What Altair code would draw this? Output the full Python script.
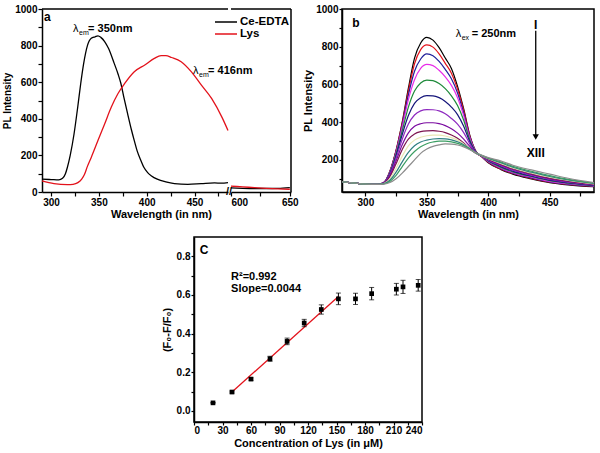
import altair as alt
import pandas as pd

FONT = "Liberation Sans"

# ---------------- Panel a data ----------------
a_series = ["Ce-EDTA", "Lys"]
a_colors = ["#000000", "#e3121b"]
a_ce_wl = [290.5, 300, 308, 312, 315, 317, 320, 324, 328, 331, 334, 338, 342, 346, 349, 352, 356, 360, 366, 370,
           373, 376, 380, 384, 387, 390, 394, 397, 401, 405, 411, 420, 429, 443, 457, 471, 478, 485]
a_ce_val = [70, 68, 66, 75, 100, 134, 200, 317, 470, 593, 700, 800, 840, 848, 853, 845, 822, 785, 703, 645,
            593, 520, 428, 340, 281, 225, 171, 135, 106, 88, 70, 55, 46, 42, 46, 50, 48, 51]
a_lys_wl = [290.5, 303, 317, 323, 328, 332, 335, 338, 342, 349, 356, 363, 370, 377, 387, 398, 408, 415, 420, 426,
            436, 447, 457, 468, 479, 485]
a_lys_val = [61, 46, 40, 42, 51, 70, 97, 140, 189, 281, 372, 464, 538, 593, 657, 694, 730, 745, 745, 735,
             712, 655, 585, 510, 405, 336]
a_right_wl = [600, 610, 620, 630, 640, 650]
a_right_ce = [22, 20, 19, 19, 20, 24]
a_right_lys = [32, 28, 24, 20, 17, 15]
a_ann_x = [323, 448.5]
a_ann_y = [893, 660]
a_ann_txt = ["= 350nm", "= 416nm"]

# ---------------- Panel b data ----------------
b_wl = [281, 300, 310, 315, 320, 325, 330, 335, 340, 345, 350, 355, 360, 365, 370, 375, 380, 385, 390, 395,
        400, 410, 420, 435, 450, 465, 486]
b_names = ["I", "II", "III", "IV", "V", "VI", "VII", "VIII", "IX", "X", "XI", "XII", "XIII"]
b_colors = ["#000000", "#e3121b", "#1f1f9a", "#e82ce8", "#1e8a3a", "#15157a", "#8e2ac0", "#7a0aa0",
            "#7d1550", "#e9e6b4", "#2e7e80", "#3c9e63", "#8c8c8c"]
b_curves = [
    [85, 72, 70, 80, 140, 250, 400, 580, 740, 820, 850, 835, 795, 740, 685, 590, 470, 330, 245, 215, 185, 150, 125, 100, 80, 68, 58],
    [85, 72, 70, 80, 140, 250, 395, 565, 710, 785, 810, 798, 762, 712, 660, 575, 462, 326, 244, 215, 188, 152, 128, 102, 82, 70, 60],
    [85, 72, 70, 80, 138, 245, 385, 545, 670, 735, 762, 752, 722, 680, 630, 555, 448, 320, 243, 216, 190, 155, 130, 105, 84, 72, 61],
    [85, 72, 70, 80, 136, 240, 375, 520, 625, 685, 706, 700, 675, 640, 595, 530, 435, 316, 242, 217, 192, 158, 133, 108, 86, 74, 62],
    [85, 72, 70, 79, 132, 232, 355, 480, 565, 608, 623, 620, 605, 578, 540, 488, 410, 306, 241, 218, 195, 162, 137, 112, 90, 77, 64],
    [85, 72, 70, 78, 128, 222, 335, 435, 500, 530, 541, 540, 530, 510, 480, 440, 378, 296, 240, 218, 197, 166, 141, 115, 93, 79, 65],
    [85, 72, 70, 78, 124, 210, 310, 390, 438, 460, 467, 466, 460, 445, 420, 390, 345, 285, 238, 219, 199, 170, 145, 119, 97, 82, 67],
    [85, 72, 70, 77, 118, 195, 280, 343, 378, 392, 397, 397, 392, 382, 365, 342, 310, 272, 236, 220, 202, 174, 149, 123, 100, 85, 69],
    [85, 72, 70, 76, 112, 180, 255, 310, 338, 350, 354, 355, 352, 345, 332, 315, 290, 260, 234, 220, 204, 178, 153, 127, 104, 88, 71],
    [85, 72, 70, 75, 100, 155, 220, 275, 305, 320, 328, 331, 331, 327, 318, 305, 285, 260, 236, 221, 206, 182, 157, 131, 108, 91, 73],
    [85, 72, 70, 74, 92, 135, 190, 240, 275, 295, 305, 311, 313, 312, 306, 296, 280, 259, 237, 222, 208, 186, 161, 135, 112, 94, 75],
    [85, 72, 70, 73, 86, 118, 165, 210, 245, 270, 286, 295, 300, 300, 296, 288, 275, 257, 238, 223, 210, 190, 166, 140, 117, 97, 77],
    [85, 72, 70, 72, 80, 100, 130, 165, 200, 235, 258, 272, 280, 285, 284, 279, 269, 254, 238, 224, 212, 195, 172, 147, 125, 103, 80],
]

# ---------------- Panel c data ----------------
c_conc = [20, 40, 60, 80, 98, 116, 134, 152, 170, 187, 213, 220, 236]
c_ratio = [0.042, 0.098, 0.165, 0.27, 0.36, 0.455, 0.525, 0.58, 0.58, 0.607, 0.63, 0.642, 0.65]
c_err = [0.0, 0.005, 0.006, 0.013, 0.017, 0.019, 0.024, 0.03, 0.029, 0.032, 0.03, 0.034, 0.03]
c_fit_x = [40, 152]
c_fit_y = [0.098, 0.592]


def ax(**kw):
    d = dict(domainColor="black", domainWidth=1.5, tickColor="black", tickWidth=1.2, tickSize=4,
             labelFont=FONT, labelFontSize=10, labelFontWeight="bold", labelColor="black", labelPadding=1,
             titleFont=FONT, titleFontSize=11, titleFontWeight="bold", titleColor="black", grid=False)
    d.update(kw)
    return alt.Axis(**d)


lab50 = "datum.value % 50 == 0 ? format(datum.value, 'd') : ''"
lab200 = "datum.value % 200 == 0 ? format(datum.value, 'd') : ''"

# ================= Panel a =================
aL_xs = alt.Scale(domain=[290.5, 485], nice=False, zero=False)
aR_xs = alt.Scale(domain=[600, 651], nice=False, zero=False)
a_ys = alt.Scale(domain=[0, 1000], nice=False, zero=False)
aL_xaxis = ax(values=[300, 325, 350, 375, 400, 425, 450, 475], labelExpr=lab50, title="Wavelength (in nm)",
              titleX=119, titlePadding=1)
aR_xaxis = ax(values=[600, 625, 650], labelExpr=lab50, title=None)
a_yaxis = ax(values=list(range(0, 1001, 100)), labelExpr=lab200, title="PL Intensity", titleFontSize=10,
             minExtent=28, maxExtent=28, titlePadding=2)


def aLX(f):
    return alt.X(f, scale=aL_xs, axis=aL_xaxis)


def aRX(f):
    return alt.X(f, scale=aR_xs, axis=aR_xaxis)


def aY(f, axis=True):
    return alt.Y(f, scale=a_ys, axis=a_yaxis if axis else None)


df_aL = pd.DataFrame({
    "wl": a_ce_wl + a_lys_wl,
    "val": a_ce_val + a_lys_val,
    "series": [a_series[0]] * len(a_ce_wl) + [a_series[1]] * len(a_lys_wl),
})
df_aR = pd.DataFrame({
    "wl": a_right_wl + a_right_wl,
    "val": a_right_ce + a_right_lys,
    "series": [a_series[0]] * len(a_right_wl) + [a_series[1]] * len(a_right_wl),
})
df_aann = pd.DataFrame({"x": a_ann_x, "y": a_ann_y, "txt": a_ann_txt})
df_alab = pd.DataFrame({"x": [292.6], "y": [956], "txt": ["a"]})
df_break = pd.DataFrame({"x": [485], "y": [0], "txt": ["//"]})

aL_lines = alt.Chart(df_aL).mark_line(strokeWidth=1.3, interpolate="monotone").encode(
    x=aLX("wl:Q"), y=aY("val:Q"),
    color=alt.Color("series:N", scale=alt.Scale(domain=a_series, range=a_colors), legend=None))
aL_lab = alt.Chart(df_alab).mark_text(font=FONT, fontSize=12, fontWeight="bold", align="left",
                                      baseline="middle", color="black").encode(
    x=aLX("x:Q"), y=aY("y:Q"), text="txt:N")
aL_lam = alt.Chart(df_aann).mark_text(font=FONT, fontSize=11, align="left", baseline="middle",
                                      color="black").encode(x=aLX("x:Q"), y=aY("y:Q"), text=alt.value("λ"))
aL_sub = alt.Chart(df_aann).mark_text(font=FONT, fontSize=7, align="left", baseline="middle", dx=6, dy=4,
                                      color="black").encode(x=aLX("x:Q"), y=aY("y:Q"), text=alt.value("em"))
aL_eq = alt.Chart(df_aann).mark_text(font=FONT, fontSize=11, fontWeight="bold", align="left",
                                     baseline="middle", dx=15, color="black").encode(
    x=aLX("x:Q"), y=aY("y:Q"), text="txt:N")
aL_brk = alt.Chart(df_break).mark_text(font=FONT, fontSize=11, fontWeight="bold", align="center",
                                       baseline="middle", dx=1, color="black").encode(
    x=aLX("x:Q"), y=aY("y:Q"), text="txt:N")
aL_top = alt.Chart(pd.DataFrame({"z": [0]})).mark_rule(strokeWidth=1.5, color="black").encode(
    x=alt.value(0), x2=alt.value(186), y=alt.value(0))

a_left = alt.layer(aL_lines, aL_lab, aL_lam, aL_sub, aL_eq, aL_brk, aL_top).properties(width=186, height=183)

aR_lines = alt.Chart(df_aR).mark_line(strokeWidth=1.3, interpolate="monotone").encode(
    x=aRX("wl:Q"), y=aY("val:Q", axis=False),
    color=alt.Color("series:N", scale=alt.Scale(domain=a_series, range=a_colors),
                    legend=alt.Legend(orient="none", legendX=-17, legendY=7, title=None, symbolType="stroke",
                                      symbolSize=484, symbolStrokeWidth=1.5, labelFont=FONT, labelFontSize=11.5,
                                      labelFontWeight="bold", labelColor="black", labelOffset=2,
                                      clipHeight=12, rowPadding=0, padding=0)))
aR_top = alt.Chart(pd.DataFrame({"z": [0]})).mark_rule(strokeWidth=1.5, color="black").encode(
    x=alt.value(0), x2=alt.value(60), y=alt.value(0))
aR_right = alt.Chart(pd.DataFrame({"z": [0]})).mark_rule(strokeWidth=1.5, color="black").encode(
    x=alt.value(60), y=alt.value(0), y2=alt.value(183))
a_right = alt.layer(aR_lines, aR_top, aR_right).properties(width=60, height=183)

panel_a = alt.hconcat(a_left, a_right, spacing=3, bounds="flush").resolve_scale(
    x="independent", y="independent", color="independent").resolve_axis(x="independent", y="independent")

# ================= Panel b =================
b_xs = alt.Scale(domain=[281, 486], nice=False, zero=False)
b_ys = alt.Scale(domain=[30, 1000], nice=False, zero=False)
b_xaxis = ax(values=[300, 325, 350, 375, 400, 425, 450, 475], labelExpr=lab50, title="Wavelength (in nm)",
             titlePadding=1)
b_yaxis = ax(values=list(range(100, 1001, 100)), labelExpr=lab200, title="PL Intensity", minExtent=27,
             maxExtent=27, titlePadding=2, tickSize=3)


def bX(f):
    return alt.X(f, scale=b_xs, axis=b_xaxis)


def bY(f):
    return alt.Y(f, scale=b_ys, axis=b_yaxis)


rows = []
for name, vals in zip(b_names, b_curves):
    for w, v in zip(b_wl, vals):
        rows.append({"wl": w, "val": v, "curve": name})
df_b = pd.DataFrame(rows)

b_lines = alt.Chart(df_b).mark_line(strokeWidth=1.2, interpolate="monotone").encode(
    x=bX("wl:Q"), y=bY("val:Q"),
    color=alt.Color("curve:N", scale=alt.Scale(domain=b_names, range=b_colors), legend=None))
df_blab = pd.DataFrame({"x": [289.4], "y": [928], "txt": ["b"]})
b_lab = alt.Chart(df_blab).mark_text(font=FONT, fontSize=12, fontWeight="bold", align="left",
                                     baseline="middle", color="black").encode(x=bX("x:Q"), y=bY("y:Q"), text="txt:N")
df_bann = pd.DataFrame({"x": [373.5], "y": [866], "txt": ["= 250nm"]})
b_lam = alt.Chart(df_bann).mark_text(font=FONT, fontSize=11, align="left", baseline="middle",
                                     color="black").encode(x=bX("x:Q"), y=bY("y:Q"), text=alt.value("λ"))
b_sub = alt.Chart(df_bann).mark_text(font=FONT, fontSize=7, align="left", baseline="middle", dx=6, dy=4,
                                     color="black").encode(x=bX("x:Q"), y=bY("y:Q"), text=alt.value("ex"))
b_eq = alt.Chart(df_bann).mark_text(font=FONT, fontSize=11, fontWeight="bold", align="left",
                                    baseline="middle", dx=16, color="black").encode(
    x=bX("x:Q"), y=bY("y:Q"), text="txt:N")
df_arrow = pd.DataFrame({"x": [438.6], "y": [885], "y2": [322]})
b_shaft = alt.Chart(df_arrow).mark_rule(strokeWidth=1.3, color="black").encode(
    x=bX("x:Q"), y=bY("y:Q"), y2="y2:Q")
b_head = alt.Chart(df_arrow).mark_point(shape="triangle-down", filled=True, size=40, color="black",
                                        opacity=1).encode(x=bX("x:Q"), y=bY("y2:Q"))
df_roman = pd.DataFrame({"x": [438.6, 438.6], "y": [915, 236], "txt": ["I", "XIII"]})
b_roman = alt.Chart(df_roman).mark_text(font=FONT, fontSize=12, fontWeight="bold", align="center",
                                        baseline="middle", color="black").encode(
    x=bX("x:Q"), y=bY("y:Q"), text="txt:N")

panel_b = alt.layer(b_lines, b_lab, b_lam, b_sub, b_eq, b_shaft, b_head, b_roman).properties(
    width=252, height=183, view=alt.ViewBackground(stroke="black", strokeWidth=1.5))

top = alt.hconcat(panel_a, panel_b, spacing=2).resolve_scale(
    x="independent", y="independent", color="independent").resolve_axis(x="independent", y="independent")

# ================= Panel c =================
c_xs = alt.Scale(domain=[0, 240], nice=False, zero=False)
c_ys = alt.Scale(domain=[-0.057, 0.9], nice=False, zero=False)
c_xaxis = ax(values=list(range(0, 241, 15)), labelExpr="datum.value % 30 == 0 ? format(datum.value, 'd') : ''",
             title="Concentration of Lys (in μM)", tickSize=3, labelPadding=0, titlePadding=2)
c_yaxis = ax(values=[0.0, 0.1, 0.2, 0.3, 0.4, 0.5, 0.6, 0.7, 0.8],
             labelExpr="abs(round(datum.value * 10)) % 2 == 0 ? format(datum.value, '.1f') : ''",
             title="(F₀-F/F₀)", tickSize=3, titlePadding=4)


def cX(f):
    return alt.X(f, scale=c_xs, axis=c_xaxis)


def cY(f):
    return alt.Y(f, scale=c_ys, axis=c_yaxis)


df_c = pd.DataFrame({"conc": c_conc, "ratio": c_ratio,
                     "lo": [r - e for r, e in zip(c_ratio, c_err)],
                     "hi": [r + e for r, e in zip(c_ratio, c_err)]})
df_fit = pd.DataFrame({"conc": c_fit_x, "ratio": c_fit_y})

c_fit = alt.Chart(df_fit).mark_line(color="#e3121b", strokeWidth=1.3).encode(x=cX("conc:Q"), y=cY("ratio:Q"))
c_err_bars = alt.Chart(df_c).mark_errorbar(ticks=True, size=5, thickness=1, color="black").encode(
    x=cX("conc:Q"), y=cY("lo:Q"), y2="hi:Q")
c_pts = alt.Chart(df_c).mark_square(size=22, color="black", opacity=1).encode(x=cX("conc:Q"), y=cY("ratio:Q"))
df_ctxt = pd.DataFrame({"x": [6, 39, 39], "y": [0.835, 0.695, 0.633], "txt": ["C", "R²=0.992", "Slope=0.0044"],
                        "fs": [12, 11, 11]})
c_txt = alt.Chart(df_ctxt).mark_text(font=FONT, fontWeight="bold", align="left", baseline="middle",
                                     color="black").encode(
    x=cX("x:Q"), y=cY("y:Q"), text="txt:N", size=alt.Size("fs:Q", scale=None, legend=None))

panel_c = alt.layer(c_fit, c_err_bars, c_pts, c_txt).properties(
    width=228, height=185, view=alt.ViewBackground(stroke="black", strokeWidth=1.5))

spacer = alt.Chart(pd.DataFrame({"s": [0]})).mark_point(opacity=0).encode(
    x=alt.value(0), y=alt.value(0)).properties(width=1, height=185)

bottom = alt.hconcat(spacer, panel_c, spacing=114).resolve_scale(
    x="independent", y="independent")

chart = alt.vconcat(top, bottom, spacing=13).resolve_scale(
    x="independent", y="independent", color="independent").properties(
    padding={"left": 1, "top": 3, "right": 0, "bottom": 0}
).configure(font=FONT, background="white").configure_view(stroke="transparent")

chart.save("out.html", embed_options={"renderer": "svg", "actions": False})
